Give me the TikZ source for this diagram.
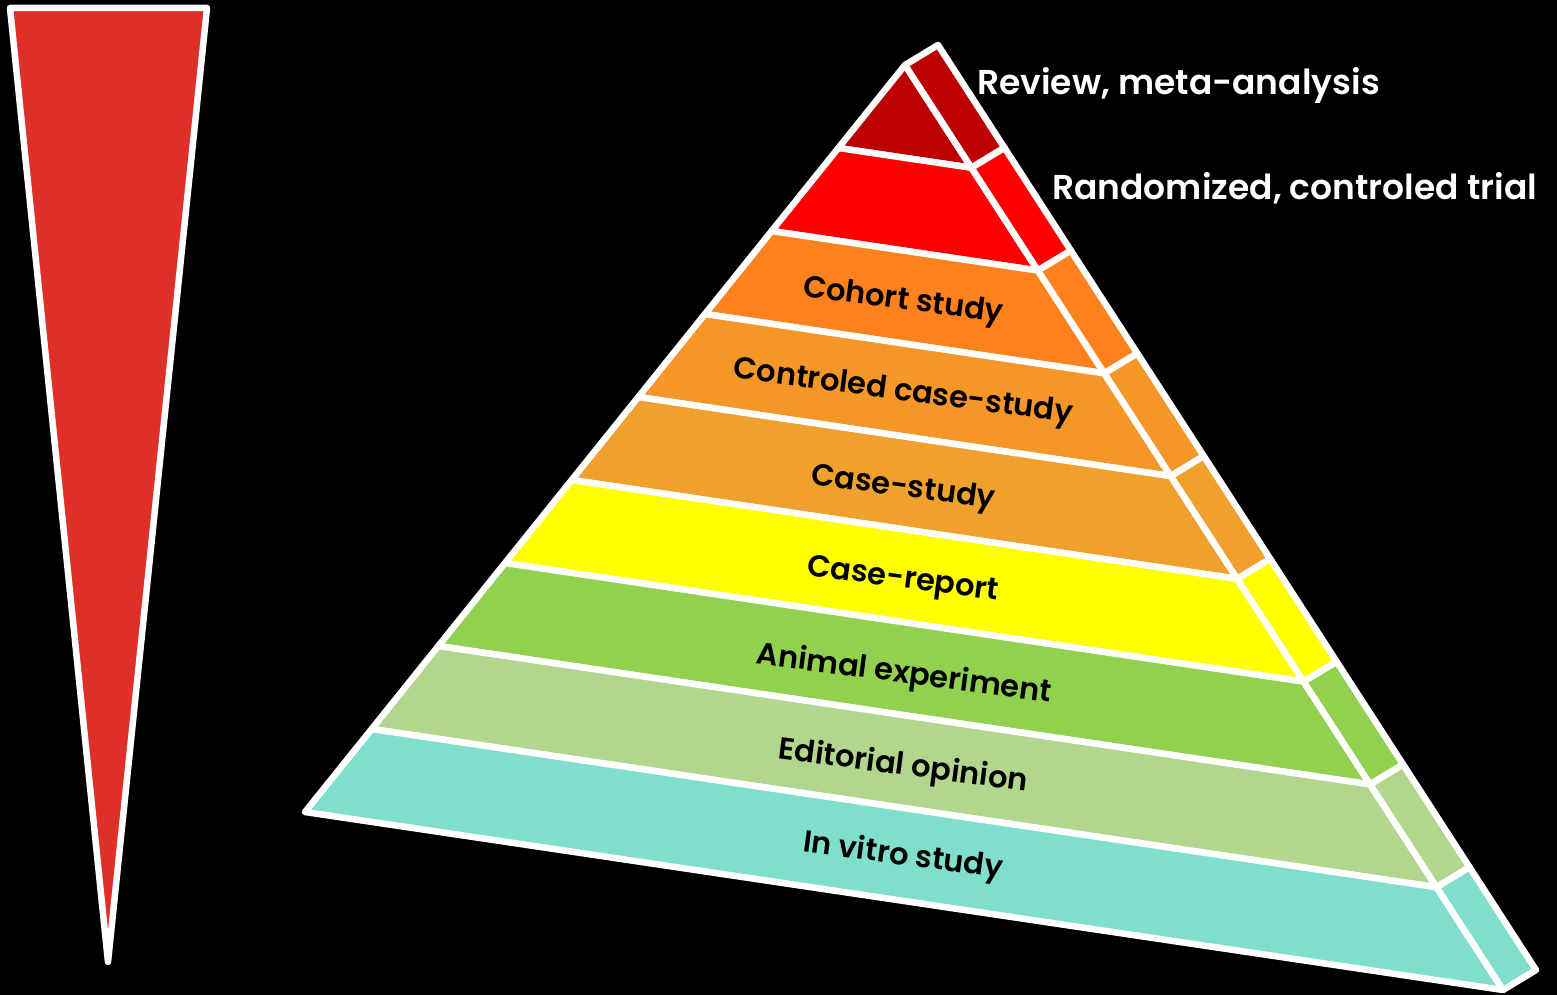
\documentclass[tikz,border=0pt]{standalone}
\usepackage{fontspec}
\setmainfont{Poppins}[BoldFont={Poppins SemiBold}]
\usetikzlibrary{calc}
\definecolor{wedge}{RGB}{222,47,40}
\definecolor{lay1}{RGB}{188,0,0}
\definecolor{lay2}{RGB}{255,0,0}
\definecolor{lay3}{RGB}{253,130,30}
\definecolor{lay4}{RGB}{245,150,40}
\definecolor{lay5}{RGB}{240,161,45}
\definecolor{lay6}{RGB}{255,255,0}
\definecolor{lay7}{RGB}{146,208,80}
\definecolor{lay8}{RGB}{179,214,142}
\definecolor{lay9}{RGB}{128,222,204}
\begin{document}
\begin{tikzpicture}[x=1pt,y=-1pt,
  seg/.style={draw=white,line width=6.5pt,line join=round},
  toplabel/.style={text=white,font=\fontsize{34.5}{40}\selectfont\bfseries,anchor=base west,inner sep=0pt},
  layerlabel/.style={text=black,font=\fontsize{30.5}{36}\selectfont\bfseries,rotate=-7.5,inner sep=0pt}]
% page
\fill[black] (0,0) rectangle (1557,995);
\useasboundingbox (0,0) rectangle (1557,995);

% narrowing wedge on the left
\draw[seg,fill=wedge] (10,8) -- (207,8) -- (108,962) -- cycle;

% pyramid corners and depth of the side face
\coordinate (A) at (905,65);
\coordinate (BL) at (305,812);
\coordinate (BR) at (1503,990);
\coordinate (off) at (33,-20);

% nine layers: front face and side strip
\foreach \k/\col in {1/lay1,2/lay2,3/lay3,4/lay4,5/lay5,6/lay6,7/lay7,8/lay8,9/lay9}{
  \pgfmathsetmacro\ta{(\k-1)/9}
  \pgfmathsetmacro\tb{\k/9}
  \coordinate (L0) at ($(A)!\ta!(BL)$);
  \coordinate (R0) at ($(A)!\ta!(BR)$);
  \coordinate (L1) at ($(A)!\tb!(BL)$);
  \coordinate (R1) at ($(A)!\tb!(BR)$);
  \draw[seg,fill=\col] (L0) -- (R0) -- (R1) -- (L1) -- cycle;
  \draw[seg,fill=\col] (R0) -- ($(R0)+(off)$) -- ($(R1)+(off)$) -- (R1) -- cycle;
}

% labels
\node[toplabel] (review) at (977,95) {Review, meta-analysis};
\node[toplabel] (rct) at (1052,200) {Randomized, controled trial};
\node[layerlabel] (cohort) at (903,302) {Cohort study};
\node[layerlabel] (ccs) at (903,393) {Controled case-study};
\node[layerlabel] (cs) at (903,489) {Case-study};
\node[layerlabel] (cr) at (903,581) {Case-report};
\node[layerlabel] (animal) at (904,675) {Animal experiment};
\node[layerlabel] (edit) at (903,767) {Editorial opinion};
\node[layerlabel] (vitro) at (903,857) {In vitro study};
\end{tikzpicture}
\end{document}
